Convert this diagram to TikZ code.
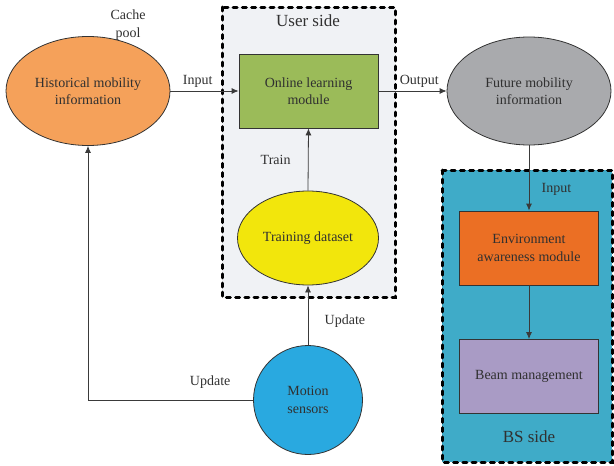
\documentclass[tikz,border=0pt]{standalone}
\usepackage{fontspec}
\setmainfont{Liberation Serif}
\usetikzlibrary{shapes.geometric,arrows.meta}
\definecolor{textgray}{HTML}{303030}
\definecolor{linegray}{HTML}{3A3A3A}
\definecolor{userfill}{HTML}{F0F2F5}
\definecolor{bsfill}{HTML}{3FABC8}
\definecolor{historange}{HTML}{F5A15A}
\definecolor{onlinegreen}{HTML}{9BBB59}
\definecolor{trainyellow}{HTML}{F2E60C}
\definecolor{futuregray}{HTML}{A9AAAD}
\definecolor{envorange}{HTML}{EB6F24}
\definecolor{beampurple}{HTML}{A99BC5}
\definecolor{motionblue}{HTML}{29A9E0}
\begin{document}
\begin{tikzpicture}[x=1pt,y=-1pt,
		every node/.style={font=\fontsize{14}{17.5}\selectfont, text=textgray, align=center},
		link/.style={draw=linegray, line width=0.8pt},
		tip/.style={-{Latex[length=7pt,width=6pt]}},
		sidebox/.style={draw=black, line width=3pt, dash pattern=on 4pt off 5.2pt, line cap=round},
		modbox/.style={draw=black!80, line width=0.8pt, minimum width=139pt, minimum height=74pt, inner sep=0pt},
		blob/.style={ellipse, draw=black!80, line width=0.8pt, inner sep=0pt},
		sidelabel/.style={font=\fontsize{17}{19}\selectfont}]
	\useasboundingbox (0,0) rectangle (614,466);
	% Draw the two sides
	\draw[sidebox, fill=userfill] (222,7) rectangle (395,297);
	\node[sidelabel] (userlbl) at (308,21) {User side};
	\draw[sidebox, fill=bsfill] (442,170) rectangle (612,462);
	\node[sidelabel] (bslbl) at (529,437) {BS side};
	% Nodes
	\node[blob, fill=historange, minimum width=164pt, minimum height=109pt] (hist) at (88,91) {Historical mobility\\information};
	\node (cache) at (128,25) {Cache\\pool};
	\node[modbox, fill=onlinegreen] (online) at (308.5,91) {Online learning\\module};
	\node[blob, fill=trainyellow, minimum width=141pt, minimum height=94pt] (train) at (308,238) {Training dataset};
	\node[blob, fill=futuregray, minimum width=164pt, minimum height=108pt] (future) at (529,91) {Future mobility\\information};
	\node[modbox, fill=envorange] (env) at (529,248) {Environment\\awareness module};
	\node[modbox, fill=beampurple] (beam) at (529,376.5) {Beam management};
	\node[circle, draw=black!80, line width=0.8pt, fill=motionblue, minimum size=109pt, inner sep=0pt] (motion) at (308,400) {Motion\\sensors};
	% Connectors
	\draw[link, tip] (hist.east) -- (online.west) node[pos=0.4, above] {Input};
	\draw[link, tip] (online.east) -- (future.west) node[pos=0.6, above] {Output};
	\draw[link, tip] (train.north) -- (online.south) node[midway, left=14pt] {Train};
	\draw[link, tip] (future.south) -- (env.north) node[pos=0.67, right=9pt] {Input};
	\draw[link, tip] (env.south) -- (beam.north);
	\draw[link, tip] (motion.north) -- (train.south) node[pos=0.4, right=13pt] {Update};
	\draw[link, tip] (motion.west) -| (hist.south) node[pos=0.13, above=8pt] {Update};
\end{tikzpicture}
\end{document}
